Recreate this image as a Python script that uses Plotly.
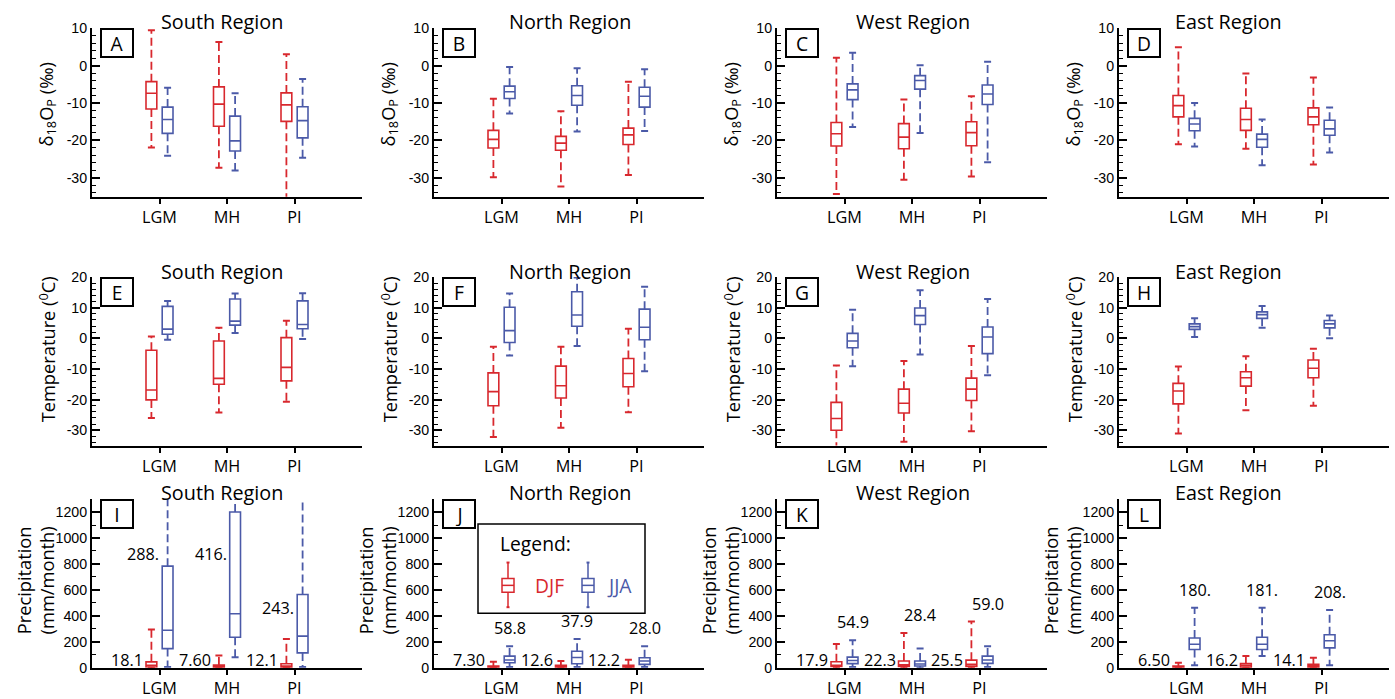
import plotly.graph_objects as go

W, H = 1395, 699
# the captured page has an 8px top margin and is rescaled vertically
MARGIN_Y = 8
SY = 0.9695

# ---------------- data ----------------
periods = ["LGM", "MH", "PI"]
regions = ["South Region", "North Region", "West Region", "East Region"]
panel_letters = ["A", "B", "C", "D", "E", "F", "G", "H", "I", "J", "K", "L"]

# each box: [lower whisker, q1, median, q3, upper whisker]; regions South, North, West, East
d18o_djf = [
    [[-21.9, -11.6, -7.4, -4.3, 9.4], [-27.3, -16.2, -10.3, -5.7, 6.3], [-40.0, -14.9, -10.5, -7.3, 3.0]],
    [[-29.8, -22.0, -19.7, -17.3, -8.9], [-32.3, -22.6, -20.7, -18.9, -12.2], [-29.2, -21.1, -18.5, -16.7, -4.3]],
    [[-34.3, -21.5, -18.2, -15.2, 2.1], [-30.5, -22.2, -19.1, -15.5, -9.1], [-29.6, -21.4, -17.9, -15.0, -8.2]],
    [[-21.0, -13.7, -10.7, -8.0, 4.9], [-22.2, -17.3, -14.4, -11.4, -2.1], [-26.4, -15.8, -13.7, -11.3, -3.2]],
]
d18o_jja = [
    [[-24.1, -18.1, -14.4, -11.1, -5.9], [-28.0, -22.8, -20.1, -13.5, -7.4], [-24.6, -19.3, -14.7, -11.0, -3.6]],
    [[-12.8, -8.8, -7.0, -5.5, -0.4], [-17.6, -10.6, -8.0, -5.4, -0.7], [-17.5, -11.1, -8.2, -5.8, -1.0]],
    [[-16.4, -9.1, -6.5, -4.9, 3.4], [-18.0, -6.3, -4.0, -2.7, 0.1], [-25.8, -10.4, -7.6, -5.2, 1.0]],
    [[-21.6, -17.4, -15.6, -14.1, -10.0], [-26.6, -21.8, -19.7, -18.3, -14.4], [-23.2, -18.6, -16.9, -14.6, -11.2]],
]
temp_djf = [
    [[-26.0, -20.1, -16.9, -3.9, 0.6], [-24.2, -15.0, -13.1, -0.9, 3.4], [-20.7, -13.9, -9.5, 0.2, 5.7]],
    [[-32.2, -22.0, -17.4, -11.3, -2.8], [-29.2, -19.5, -15.5, -9.1, -2.8], [-24.1, -15.8, -11.5, -6.6, 3.1]],
    [[-38.0, -30.0, -26.2, -20.9, -8.9], [-33.8, -24.4, -21.2, -16.6, -7.4], [-30.3, -20.3, -16.6, -13.0, -2.5]],
    [[-31.1, -21.4, -17.2, -14.7, -9.2], [-23.5, -15.6, -12.9, -10.9, -5.9], [-22.0, -12.9, -9.8, -7.1, -3.4]],
]
temp_jja = [
    [[-0.5, 1.3, 3.0, 10.4, 12.2], [1.7, 4.3, 5.6, 12.8, 14.6], [-0.2, 3.1, 4.5, 12.2, 14.7]],
    [[-5.6, -1.4, 2.5, 10.1, 14.6], [-2.5, 3.9, 7.6, 15.2, 19.8], [-10.8, -0.5, 3.6, 9.5, 16.8]],
    [[-9.1, -3.1, -0.9, 1.6, 9.3], [-5.3, 4.5, 7.4, 9.9, 15.7], [-12.1, -5.0, 0.4, 3.7, 12.8]],
    [[0.4, 2.9, 3.8, 4.7, 6.5], [3.4, 6.5, 7.7, 8.6, 10.5], [0.0, 3.4, 4.7, 5.8, 7.4]],
]
precip_djf = [
    [[0, 5, 18.1, 45, 295], [0, 2, 7.6, 20, 94], [0, 3, 12.1, 30, 221]],
    [[0, 2, 7.3, 13, 46], [0, 3, 12.6, 18, 51], [0, 3, 12.2, 18, 61]],
    [[0, 10, 17.9, 46, 183], [0, 10, 22.3, 51, 267], [0, 10, 25.5, 58, 356]],
    [[0, 2, 6.5, 13, 38], [0, 3, 16.2, 31, 89], [0, 3, 14.1, 25, 76]],
]
precip_jja = [
    [[5, 147, 288, 783, 1500], [81, 234, 416, 1200, 1500], [5, 114, 243, 564, 1500]],
    [[5, 38, 58.8, 89, 165], [5, 30, 78, 127, 221], [5, 25, 51, 76, 165]],
    [[5, 31, 54.9, 81, 211], [0, 13, 28.4, 51, 147], [5, 33, 59.0, 89, 165]],
    [[18, 140, 180, 229, 463], [89, 140, 181, 234, 463], [18, 153, 208, 254, 445]],
]
# printed median values in the precipitation panels
precip_djf_label = [[18.1, 7.60, 12.1], [7.30, 12.6, 12.2], [17.9, 22.3, 25.5], [6.50, 16.2, 14.1]]
precip_jja_label = [[288, 416, 243], [58.8, 37.9, 28.0], [54.9, 28.4, 59.0], [180, 181, 208]]

# ---------------- style / layout ----------------
RED = "#d8282e"
BLUE = "#4b5aa8"
FONT_M = "Open Sans"
FONT_T = "Liberation Sans"
FS = 1.015

# target picture-pixel geometry
COL_LEFT = [92, 434, 777, 1119]
COL_W = 270
ROW_TOP = [28, 279, 503]
ROW_H = 170
TITLE_X = [222, 570, 913, 1228]
TITLE_Y = [21, 273, 496]
YTITLE_Y = [105, 352, 585]
OFFSET = 0.12
BOX_W = 0.16
SIDE_LABEL_Y = [877, 880, 458]  # text heights for labels beside over-tall boxes

rows = [
    dict(data=(d18o_djf, d18o_jja), rng=[-35, 10], tickvals=[-30, -20, -10, 0, 10], minor=2,
         title="δ<sub>18</sub>O<sub>P</sub> (‰)"),
    dict(data=(temp_djf, temp_jja), rng=[-35, 20], tickvals=[-30, -20, -10, 0, 10, 20], minor=2,
         title="Temperature (<sup>0</sup>C)"),
    dict(data=(precip_djf, precip_jja), rng=[0, 1300], tickvals=[0, 200, 400, 600, 800, 1000, 1200], minor=100,
         title="Precipitation<br>(mm/month)"),
]


def px_x(p):
    return min(1.0, max(0.0, p / W))


def px_y(p):
    f = p / SY - MARGIN_Y
    return min(1.0, max(0.0, 1 - f / H))


def fmt3(v):
    if v >= 100:
        return f"{v:.0f}."
    if v >= 10:
        return f"{v:.1f}"
    return f"{v:.2f}"


fig = go.Figure()
annotations = []
shapes = []
layout = {}

for r, row in enumerate(rows):
    for c in range(4):
        k = r * 4 + c + 1
        xs = "x" if k == 1 else f"x{k}"
        ys = "y" if k == 1 else f"y{k}"
        xa = "xaxis" if k == 1 else f"xaxis{k}"
        ya = "yaxis" if k == 1 else f"yaxis{k}"
        left = COL_LEFT[c]
        top = ROW_TOP[r]
        layout[xa] = dict(
            domain=[px_x(left), px_x(left + COL_W)], anchor=ys, range=[0, 4],
            tickmode="array", tickvals=[1, 2, 3], ticktext=periods,
            ticks="outside", ticklen=5, tickwidth=1.5, tickcolor="black",
            showline=True, linewidth=2, linecolor="black", showgrid=False, zeroline=False,
            tickfont=dict(family=FONT_M, size=16 * FS, color="black"), fixedrange=True,
        )
        layout[ya] = dict(
            domain=[px_y(top + ROW_H), px_y(top)], anchor=xs, range=row["rng"],
            tickmode="array", tickvals=row["tickvals"], ticktext=[str(v) for v in row["tickvals"]],
            ticks="inside", ticklen=8, tickwidth=1.5, tickcolor="black",
            minor=dict(ticks="inside", ticklen=4, tickwidth=1, tickcolor="black",
                       tickmode="linear", tick0=0, dtick=row["minor"]),
            showline=True, linewidth=2, linecolor="black", showgrid=False, zeroline=False,
            tickfont=dict(family=FONT_T, size=14 * FS, color="black"), fixedrange=True,
        )
        for s, (season_data, color, off) in enumerate(
                [(row["data"][0], RED, -OFFSET), (row["data"][1], BLUE, OFFSET)]):
            stats = season_data[c]
            pos = [i + 1 + off for i in range(3)]
            lo = [b[0] for b in stats]
            q1 = [b[1] for b in stats]
            med = [b[2] for b in stats]
            q3 = [b[3] for b in stats]
            hi = [b[4] for b in stats]
            fig.add_trace(go.Box(
                x=pos, q1=q1, median=med, q3=q3, lowerfence=q1, upperfence=q3,
                width=BOX_W, orientation="v", line=dict(color=color, width=1.6),
                fillcolor="rgba(0,0,0,0)", boxpoints=False, whiskerwidth=0,
                xaxis=xs, yaxis=ys, showlegend=False, hoverinfo="skip",
            ))
            wx, wy = [], []
            for p, a, b, cc, d in zip(pos, lo, q1, q3, hi):
                wx += [p, p, None, p, p, None]
                wy += [cc, d, None, b, a, None]
            fig.add_trace(go.Scatter(
                x=wx, y=wy, mode="lines", line=dict(color=color, width=1.8, dash="8px,4px"),
                xaxis=xs, yaxis=ys, showlegend=False, hoverinfo="skip",
            ))
            fig.add_trace(go.Scatter(
                x=pos + pos, y=hi + lo, mode="markers",
                marker=dict(symbol="line-ew", size=5, line=dict(color=color, width=2)),
                xaxis=xs, yaxis=ys, showlegend=False, hoverinfo="skip",
            ))

        annotations.append(dict(
            text=regions[c], xref="paper", yref="paper", x=px_x(TITLE_X[c]), y=px_y(TITLE_Y[r]),
            xanchor="center", yanchor="middle", showarrow=False,
            font=dict(family=FONT_M, size=19.5 * FS, color="black")))
        annotations.append(dict(
            text=panel_letters[k - 1], xref="paper", yref="paper", x=px_x(left + 8), y=px_y(top),
            xanchor="left", yanchor="top", showarrow=False, width=28, height=24,
            bordercolor="black", borderwidth=2, borderpad=1, bgcolor="white",
            font=dict(family=FONT_M, size=19 * FS, color="black")))
        annotations.append(dict(
            text=row["title"], xref="paper", yref="paper",
            x=px_x(left - (57 if r == 2 else 45)), y=px_y(YTITLE_Y[r]),
            xanchor="center", yanchor="middle", textangle=-90, showarrow=False,
            font=dict(family=FONT_M, size=18 * FS, color="black")))

        if r == 2:
            djf = precip_djf[c]
            jja = precip_jja[c]
            for i in range(3):
                annotations.append(dict(
                    text=fmt3(precip_djf_label[c][i]), xref=xs, yref=ys,
                    x=i + 1 - OFFSET - BOX_W / 2, y=0, xanchor="right", yanchor="middle",
                    yshift=8, xshift=-1, showarrow=False,
                    font=dict(family=FONT_M, size=16 * FS, color="black")))
                top_val = max(djf[i][4], jja[i][4])
                if top_val > row["rng"][1]:
                    annotations.append(dict(
                        text=fmt3(precip_jja_label[c][i]), xref=xs, yref=ys,
                        x=i + 1 + OFFSET - BOX_W / 2, y=SIDE_LABEL_Y[i], xanchor="right",
                        yanchor="middle", xshift=-1, showarrow=False,
                        font=dict(family=FONT_M, size=16 * FS, color="black")))
                else:
                    annotations.append(dict(
                        text=fmt3(precip_jja_label[c][i]), xref=xs, yref=ys,
                        x=i + 1 + OFFSET, y=top_val, xanchor="center", yanchor="bottom",
                        yshift=5, showarrow=False,
                        font=dict(family=FONT_M, size=16 * FS, color="black")))

# ---------------- legend (panel J) ----------------
LEG = dict(x0=478, x1=645, y0=528, y1=618)
shapes.append(dict(type="rect", xref="paper", yref="paper",
                   x0=px_x(LEG["x0"]), x1=px_x(LEG["x1"]), y0=px_y(LEG["y1"]), y1=px_y(LEG["y0"]),
                   line=dict(color="black", width=1.5), fillcolor="white", layer="above"))
annotations.append(dict(text="Legend:", xref="paper", yref="paper", x=px_x(498), y=px_y(548),
                        xanchor="left", yanchor="middle", showarrow=False,
                        font=dict(family=FONT_M, size=19 * FS, color="black")))
for cx, color, label, tx in [(508, RED, "DJF", 533), (588, BLUE, "JJA", 605)]:
    shapes.append(dict(type="rect", xref="paper", yref="paper",
                       x0=px_x(cx - 6), x1=px_x(cx + 6), y0=px_y(597), y1=px_y(583),
                       line=dict(color=color, width=1.5), layer="above"))
    shapes.append(dict(type="line", xref="paper", yref="paper",
                       x0=px_x(cx - 6), x1=px_x(cx + 6), y0=px_y(590), y1=px_y(590),
                       line=dict(color=color, width=1.5), layer="above"))
    for (ya_, yb_) in [(567, 583), (597, 612)]:
        shapes.append(dict(type="line", xref="paper", yref="paper",
                           x0=px_x(cx), x1=px_x(cx), y0=px_y(ya_), y1=px_y(yb_),
                           line=dict(color=color, width=1.5), layer="above"))
    for yc in (567, 612):
        shapes.append(dict(type="line", xref="paper", yref="paper",
                           x0=px_x(cx - 1.5), x1=px_x(cx + 1.5), y0=px_y(yc), y1=px_y(yc),
                           line=dict(color=color, width=2), layer="above"))
    annotations.append(dict(text=label, xref="paper", yref="paper", x=px_x(tx), y=px_y(590),
                            xanchor="left", yanchor="middle", showarrow=False,
                            font=dict(family=FONT_M, size=19 * FS, color=color)))

fig.update_layout(
    width=W, height=H, margin=dict(l=0, r=0, t=0, b=0),
    paper_bgcolor="white", plot_bgcolor="white",
    boxmode="overlay", showlegend=False,
    annotations=annotations, shapes=shapes,
    **layout,
)

fig.write_html("out.html")
